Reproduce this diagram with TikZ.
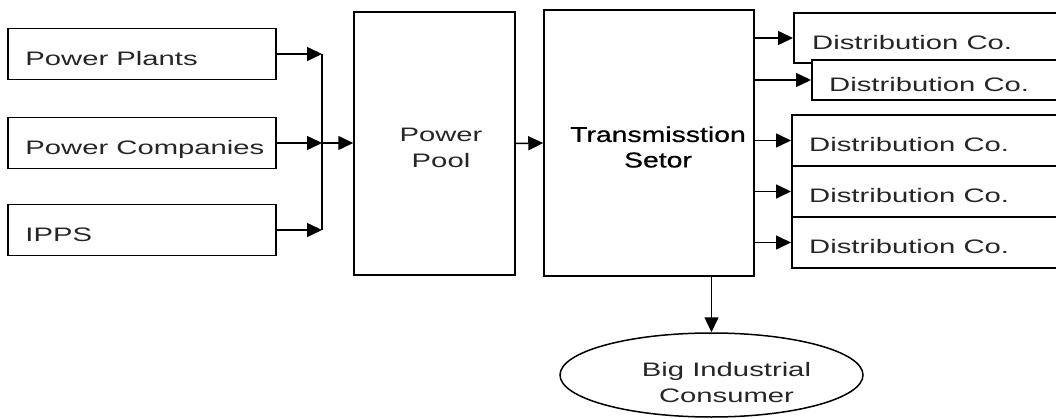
\documentclass[tikz,border=0pt]{standalone}
\usepackage{fontspec}
\setmainfont{Liberation Sans}[FakeStretch=1.5]
\newfontfamily\transfont{Liberation Sans}[FakeStretch=1.32,FakeBold=0.6]
\usetikzlibrary{arrows.meta,shapes.geometric}

\begin{document}
\begin{tikzpicture}[x=1pt,y=-1pt,
	box/.style={draw,line width=1.5pt,fill=white,inner sep=0pt},
	lbl/.style={inner sep=0pt,text=black!85,font=\fontsize{19.5}{26}\selectfont},
	arr/.style={line width=1.5pt,-{Triangle[length=15pt,width=14pt]}}]
		\useasboundingbox (0,0) rectangle (1056,419);
		
		% generators on the left
		\foreach \s/\y/\t in {pp/54/Power Plants,pc/143/Power Companies,ipp/230/IPPS}
		{
		\node[box,minimum width=268pt,minimum height=51pt] (\s) at (142,\y) {};
		\node[lbl,anchor=base west] (\s t) at ([xshift=18pt,yshift=-11.5pt]\s.west) {\t};
		}
		
		% pool and transmission
		\node[box,minimum width=161pt,minimum height=263pt] (pool) at (434.5,143.5) {};
		\node[lbl,align=center] (poolt) at ([xshift=6.5pt,yshift=-4.5pt]pool.center) {Power\\Pool};
		\node[box,minimum width=210pt,minimum height=266pt] (trans) at (649,143) {};
		\node[inner sep=0pt,align=center,font=\transfont\fontsize{21.5}{25.5}\selectfont] (transt)
			at ([xshift=9pt,yshift=-4pt]trans.center) {Transmisstion\\Setor};
		
		% distribution companies
		\node[box,anchor=west,minimum width=300pt,minimum height=50pt] (d1) at (793,38) {};
		\node[lbl,anchor=base west] (d1t) at ([xshift=19pt,yshift=-11.5pt]d1.west) {Distribution Co.};
		\node[box,anchor=west,minimum width=300pt,minimum height=40pt] (d2) at (811,80) {};
		\node[lbl,anchor=base west] (d2t) at ([xshift=18pt,yshift=-11.5pt]d2.west) {Distribution Co.};
		\foreach \n/\y in {3/140.5,4/191.5,5/242.5}
		{
		\node[box,anchor=west,minimum width=300pt,minimum height=51pt] (d\n) at (791,\y) {};
		\node[lbl,anchor=base west] (d\n t) at ([xshift=18pt,yshift=-11.5pt]d\n.west) {Distribution Co.};
		}
		
		\node[draw,ellipse,line width=1.5pt,inner sep=0pt,minimum width=303pt,minimum height=84pt] (bic) at (711.5,375) {};
		\node[lbl,align=center] (bict) at ([xshift=15pt,yshift=-8pt]bic.center) {Big Industrial\\Consumer};
		
		% connectors
		\coordinate (bus) at (322,143);
		\foreach \s in {pp,pc,ipp}
		{
		\draw[arr] (\s.east) to (\s.east -| bus);
		}
		\draw[line width=1.5pt] (pp.east -| bus) to (ipp.east -| bus);
		\draw[arr] (bus) to (pool.west |- bus);
		\draw[arr] (pool.east) to (trans.west);
		\foreach \n in {1,...,5}
		{
		\draw[arr] (trans.east |- d\n.west) to (d\n.west);
		}
		\draw[arr] (trans.south -| bic.north) to (bic.north);
	\end{tikzpicture}
\end{document}
